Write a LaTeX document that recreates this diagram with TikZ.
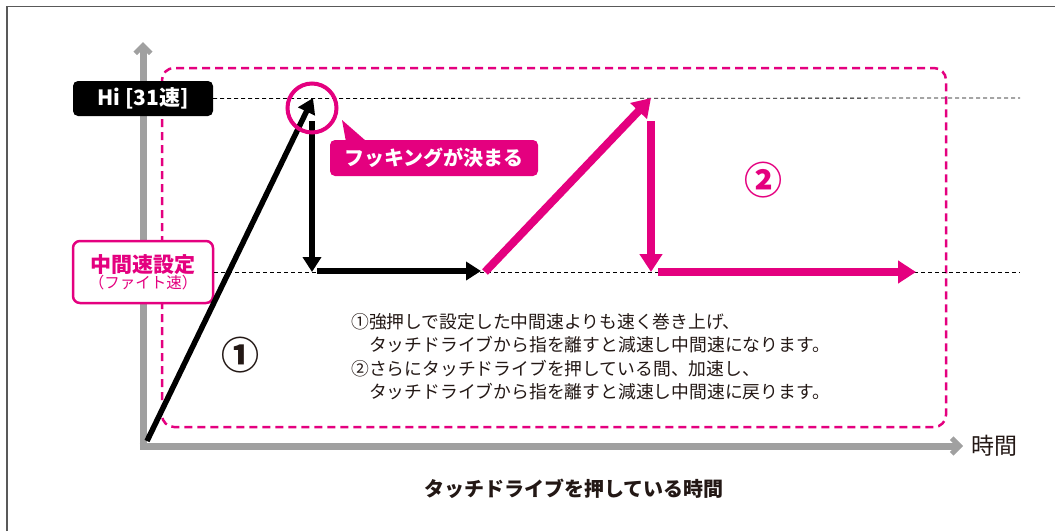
\documentclass[tikz,border=0pt]{standalone}
\usepackage{fontspec}
\setmainfont{Noto Sans CJK JP}
\usetikzlibrary{arrows.meta}
\definecolor{mg}{HTML}{E4007F}
\definecolor{axisgray}{HTML}{A0A0A0}
\definecolor{txt}{HTML}{231815}

\begin{document}
\begin{tikzpicture}[x=1pt, y=-1pt,
    axis/.style={axisgray, line width=7pt, -{Straight Barb[angle=90:11pt, line width=5pt]}},
    guide/.style={black, line width=0.8pt, dash pattern=on 4pt off 3pt},
    blackarrow/.style={line width=5.5pt, -{Triangle[length=15pt, width=18pt]}},
    mgarrow/.style={mg, line width=8pt, -{Triangle[length=18pt, width=22pt]}},
    tag/.style={rounded corners=5pt, inner sep=0pt, font=\bfseries\fontsize{20}{20}\selectfont}]
    \useasboundingbox (0,0) rectangle (1055,531);
    \draw[gray!70!black, line width=1.5pt] (7,531) -- (7,6.5) -- (1055,6.5);

    \coordinate (origin) at (147,441);
    \coordinate (ybot) at (143,449.5);
    \coordinate (ytop) at (143,42);
    \coordinate (xbeg) at (139.5,446);
    \coordinate (xend) at (963,446);
    \coordinate (hiend) at (1020,98);
    \coordinate (midend) at (1020,272);

    \draw[axis] (ybot) -- (ytop);
    \draw[axis] (xbeg) -- (xend);
    \draw[mg, line width=2.5pt, dash pattern=on 8pt off 5pt, rounded corners=12pt] (162,68) rectangle (946,427);

    \node[tag, fill=black, text=white, minimum width=140pt, minimum height=35pt, font=\bfseries\fontsize{21}{21}\selectfont] (hi) at (143,98.5) {Hi [31速]};
    \node[draw=mg, line width=2.5pt, fill=white, rounded corners=7pt, inner sep=0pt, minimum width=140pt, minimum height=62pt, align=center, text=mg] (mid) at (143,272)
        {{\bfseries\fontsize{21}{23}\selectfont 中間速設定}\\{\fontsize{15.5}{21}\selectfont （ファイト速）}};
    \draw[guide] (hi.east) -- (hiend);
    \draw[guide] (mid.east) -- (midend);

    \coordinate (peak1) at (313,98);
    \coordinate (fall1) at (312,121);
    \coordinate (low1) at (312,272);
    \coordinate (run1) at (317,271);
    \coordinate (run1end) at (481,271);
    \coordinate (rise2) at (485,272);
    \coordinate (peak2) at (651,98);
    \coordinate (fall2) at (651,121);
    \coordinate (low2) at (651,272);
    \coordinate (run2) at (658,272);
    \coordinate (run2end) at (916,272);

    \draw[blackarrow] (origin) -- (peak1);
    \draw[blackarrow] (fall1) -- (low1);
    \draw[blackarrow] (run1) -- (run1end);
    \draw[mgarrow] (rise2) -- (peak2);
    \draw[mgarrow] (fall2) -- (low2);
    \draw[mgarrow] (run2) -- (run2end);

    \node[circle, draw=mg, line width=4pt, minimum size=49pt] (hook) at (312,108) {};
    \node[tag, fill=mg, text=white, minimum width=208pt, minimum height=36pt] (callout) at (434,158) {フッキングが決まる};
    \coordinate (ptip) at (342,120);
    \fill[mg] (ptip) -- ([xshift=16pt, yshift=-1pt]callout.north west) -- ([xshift=36pt, yshift=-1pt]callout.north west) -- cycle;

    \node[font=\bfseries\fontsize{38}{38}\selectfont, text=txt] (n1) at (240,355) {①};
    \node[font=\bfseries\fontsize{38}{38}\selectfont, text=mg] (n2) at (763,180) {②};

    \node[anchor=north west, align=left, inner sep=0pt, text=txt, font=\fontsize{17.8}{23.5}\selectfont] (note) at (351,313)
        {①強押しで設定した中間速よりも速く巻き上げ、\\　タッチドライブから指を離すと減速し中間速になります。\\②さらにタッチドライブを押している間、加速し、\\　タッチドライブから指を離すと減速し中間速に戻ります。};
    \node[font=\bfseries\fontsize{20}{20}\selectfont, text=txt] (xlabel) at (574,489) {タッチドライブを押している時間};
    \node[anchor=west, font=\fontsize{23}{23}\selectfont, text=txt] (xunit) at (968,446) {時間};
\end{tikzpicture}
\end{document}
